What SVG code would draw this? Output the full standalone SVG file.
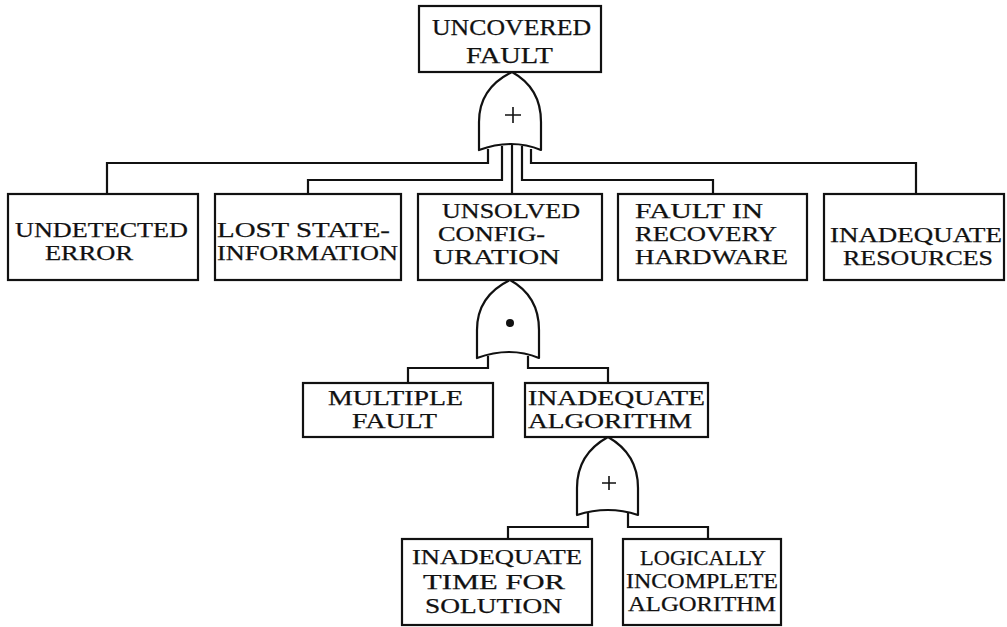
<svg xmlns="http://www.w3.org/2000/svg" width="1007" height="627" viewBox="0 0 1007 627">
  <style>
    .box { fill: #fff; stroke: #111; stroke-width: 2.2; }
    .gate { fill: #fff; stroke: #111; stroke-width: 2.2; stroke-linejoin: round; }
    .wire { fill: none; stroke: #111; stroke-width: 2.2; stroke-linejoin: miter; }
    .sym { fill: none; stroke: #111; stroke-width: 1.6; }
    text { font-family: "Liberation Serif", "Times New Roman", serif; font-size: 21px; fill: #111; stroke: #111; stroke-width: 0.25; }
    .big { font-size: 24px; }
  </style>
  <rect width="1007" height="627" fill="#fff"/>

  <!-- connectors -->
  <g id="connectors">
    <!-- OR gate 1 outputs -->
    <path class="wire" d="M488,149 V163 H107 V194"/>
    <path class="wire" d="M502,146 V180 H308 V194"/>
    <path class="wire" d="M512,145 V194"/>
    <path class="wire" d="M522,146 V180 H713 V194"/>
    <path class="wire" d="M531,149 V163 H916 V194"/>
    <!-- AND gate outputs -->
    <path class="wire" d="M488,356 V368 H408 V383"/>
    <path class="wire" d="M528,356 V368 H608 V383"/>
    <!-- OR gate 2 outputs -->
    <path class="wire" d="M588,513 V527 H508 V539"/>
    <path class="wire" d="M628,513 V527 H708 V539"/>
  </g>

  <!-- top event -->
  <g id="uncovered-fault">
    <rect class="box" x="419" y="6" width="182" height="66"/>
    <text class="big" x="432" y="35" textLength="159" lengthAdjust="spacingAndGlyphs">UNCOVERED</text>
    <text class="big" x="466" y="63" textLength="87" lengthAdjust="spacingAndGlyphs">FAULT</text>
  </g>

  <g id="or-gate-1">
    <path class="gate" d="M512,72 Q541,88 541,122 L541,150 Q512,138 479,150 L479,122 Q479,88 512,72 Z"/>
    <path class="sym" d="M513,107 V123 M505,115 H521"/>
  </g>

  <g id="undetected-error">
    <rect class="box" x="8" y="194" width="190" height="86"/>
    <text x="15" y="237" textLength="173" lengthAdjust="spacingAndGlyphs">UNDETECTED</text>
    <text x="45" y="260" textLength="88" lengthAdjust="spacingAndGlyphs">ERROR</text>
  </g>

  <g id="lost-state-information">
    <rect class="box" x="215" y="194" width="186" height="86"/>
    <text x="217" y="237" textLength="173" lengthAdjust="spacingAndGlyphs">LOST STATE-</text>
    <text x="217" y="260" textLength="181" lengthAdjust="spacingAndGlyphs">INFORMATION</text>
  </g>

  <g id="unsolved-configuration">
    <rect class="box" x="418" y="194" width="184" height="86"/>
    <text x="442" y="218" textLength="138" lengthAdjust="spacingAndGlyphs">UNSOLVED</text>
    <text x="438" y="241" textLength="107" lengthAdjust="spacingAndGlyphs">CONFIG-</text>
    <text x="433" y="264" textLength="127" lengthAdjust="spacingAndGlyphs">URATION</text>
  </g>

  <g id="fault-in-recovery-hardware">
    <rect class="box" x="618" y="194" width="189" height="86"/>
    <text x="635" y="218" textLength="128" lengthAdjust="spacingAndGlyphs">FAULT IN</text>
    <text x="635" y="241" textLength="142" lengthAdjust="spacingAndGlyphs">RECOVERY</text>
    <text x="635" y="264" textLength="153" lengthAdjust="spacingAndGlyphs">HARDWARE</text>
  </g>

  <g id="inadequate-resources">
    <rect class="box" x="824" y="194" width="180" height="86"/>
    <text x="830" y="242" textLength="172" lengthAdjust="spacingAndGlyphs">INADEQUATE</text>
    <text x="843" y="265" textLength="150" lengthAdjust="spacingAndGlyphs">RESOURCES</text>
  </g>

  <g id="and-gate">
    <path class="gate" d="M510,280 Q539,296 539,330 L539,358 Q510,346 477,358 L477,330 Q477,296 510,280 Z"/>
    <circle cx="510" cy="323" r="4" fill="#111"/>
  </g>

  <g id="multiple-fault">
    <rect class="box" x="303" y="383" width="190" height="54"/>
    <text x="328" y="405" textLength="135" lengthAdjust="spacingAndGlyphs">MULTIPLE</text>
    <text x="352" y="428" textLength="85" lengthAdjust="spacingAndGlyphs">FAULT</text>
  </g>

  <g id="inadequate-algorithm">
    <rect class="box" x="525" y="383" width="183" height="54"/>
    <text x="528" y="405" textLength="177" lengthAdjust="spacingAndGlyphs">INADEQUATE</text>
    <text x="528" y="428" textLength="164" lengthAdjust="spacingAndGlyphs">ALGORITHM</text>
  </g>

  <g id="or-gate-2">
    <path class="gate" d="M608,437 Q638,454 638,488 L638,515 Q608,505 577,515 L577,488 Q577,454 608,437 Z"/>
    <path class="sym" d="M609,476 V490 M602,483 H616" stroke-width="1.2"/>
  </g>

  <g id="inadequate-time-for-solution">
    <rect class="box" x="402" y="539" width="190" height="86"/>
    <text x="412" y="564" textLength="170" lengthAdjust="spacingAndGlyphs">INADEQUATE</text>
    <text x="423" y="589" textLength="142" lengthAdjust="spacingAndGlyphs">TIME FOR</text>
    <text x="425" y="613" textLength="137" lengthAdjust="spacingAndGlyphs">SOLUTION</text>
  </g>

  <g id="logically-incomplete-algorithm">
    <rect class="box" x="623" y="539" width="158" height="86"/>
    <text x="640" y="565" textLength="126" lengthAdjust="spacingAndGlyphs">LOGICALLY</text>
    <text x="626" y="588" textLength="152" lengthAdjust="spacingAndGlyphs">INCOMPLETE</text>
    <text x="628" y="611" textLength="148" lengthAdjust="spacingAndGlyphs">ALGORITHM</text>
  </g>
</svg>
